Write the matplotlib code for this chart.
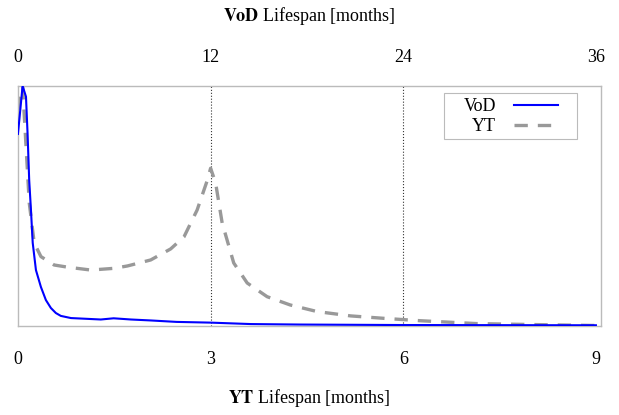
import matplotlib.pyplot as plt
from matplotlib.patches import Rectangle

plt.rcParams['font.family'] = ['Liberation Serif', 'DejaVu Serif']
plt.rcParams['mathtext.fontset'] = 'stix'

# YT lifespan (months) vs normalised density
yt_months = [0.0, 0.073, 0.176, 0.253, 0.358, 0.564, 0.773, 1.135, 1.49, 1.705, 2.067,
             2.378, 2.585, 2.79, 2.95, 3.0, 3.078, 3.18, 3.36, 3.57, 3.88, 4.24, 4.66,
             5.18, 5.69, 6.26, 7.14, 8.0, 9.0]
yt_density = [0.90, 0.997, 0.5125, 0.346, 0.289, 0.254, 0.245, 0.233, 0.240, 0.25, 0.275,
              0.321, 0.371, 0.483, 0.608, 0.657, 0.596, 0.429, 0.2625, 0.179, 0.122, 0.0875, 0.06,
              0.042, 0.032, 0.022, 0.010, 0.006, 0.002]

# VoD lifespan (months, top axis) vs normalised density
vod_months = [0.0, 0.29, 0.50, 0.60, 0.70, 0.81, 0.92, 1.12, 1.43, 1.74, 2.05, 2.36, 2.67,
              3.30, 3.92, 4.54, 5.16, 5.96, 7.04, 8.28, 9.88, 12.0, 14.5, 17.6, 23.8, 36.0]
vod_density = [0.80, 1.0, 0.955, 0.80, 0.608, 0.483, 0.346, 0.233, 0.1625, 0.108, 0.075,
               0.054, 0.042, 0.033, 0.031, 0.029, 0.027, 0.032, 0.027, 0.023, 0.017, 0.014,
               0.008, 0.006, 0.004, 0.003]

vod_ticks = [0, 12, 24, 36]
yt_ticks = [0, 3, 6, 9]

fs = 13

fig = plt.figure(figsize=(6.19, 4.15), dpi=100)
ax = fig.add_axes([0.029, 0.2145, 0.942, 0.5785])

# VoD curve goes on the top scale (4x the bottom one)
ax.plot([m / 4 for m in vod_months], vod_density, color='#0000ff', lw=1.5, label='VoD', zorder=3)
ax.plot(yt_months, yt_density, color='#999999', lw=2.4, dashes=(4, 3), label='YT', zorder=2)

for xv in yt_ticks[1:3]:
    ax.axvline(xv, color='#333333', ls=':', lw=0.8, zorder=1)

ax.set_xlim(0, 9.08)
ax.set_ylim(0, 1.0)
ax.set_yticks([])
ax.set_xticks(yt_ticks)
ax.tick_params(axis='x', length=0, pad=18, labelsize=fs)
ax.set_xlabel(r'$\mathbf{YT}$ Lifespan [months]', fontsize=fs, labelpad=14)

top = ax.secondary_xaxis('top', functions=(lambda x: x * 4, lambda x: x / 4))
top.set_xticks(vod_ticks)
top.tick_params(length=0, pad=14.5, labelsize=fs)
top.set_xlabel(r'$\mathbf{VoD}$ Lifespan [months]', fontsize=fs, labelpad=20)
top.spines['top'].set_visible(False)

for sp in ax.spines.values():
    sp.set_color('#bbbbbb')
    sp.set_linewidth(1.0)

# legend box drawn separately so it can be wider than the entries
ax.add_patch(Rectangle((0.731, 0.779), 0.228, 0.192, transform=ax.transAxes,
                       facecolor='white', edgecolor='#bbbbbb', lw=0.8, zorder=4))
leg = ax.legend(loc='upper right', markerfirst=False, frameon=False, fontsize=fs,
                handlelength=2.4, handletextpad=1.0, labelspacing=0.15,
                borderpad=0.3, borderaxespad=0, bbox_to_anchor=(0.935, 0.971))
leg.set_zorder(5)

fig.savefig('out.png', dpi=100)
